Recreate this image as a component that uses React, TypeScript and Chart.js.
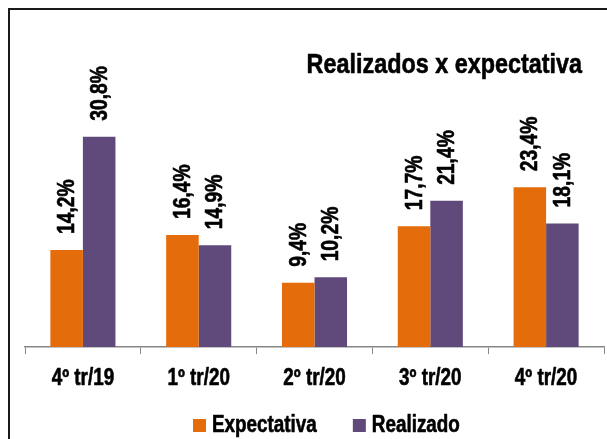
import React, { useEffect, useRef } from "react";
import { Chart, registerables } from "chart.js";

Chart.register(...registerables);

const categories = ["4º tr/19", "1º tr/20", "2º tr/20", "3º tr/20", "4º tr/20"];
const expectativa = [14.2, 16.4, 9.4, 17.7, 23.4];
const realizado = [30.8, 14.9, 10.2, 21.4, 18.1];
const seriesNames = ["Expectativa", "Realizado"];
const seriesColors = ["#E46C0A", "#604A7B"];
const chartTitle = "Realizados x expectativa";

const FONT = "'Liberation Sans', Arial, sans-serif";
const NARROW = 0.82;

function narrowText(ctx: CanvasRenderingContext2D, text: string, x: number, y: number, rot = 0) {
  ctx.save();
  ctx.translate(x, y);
  if (rot) ctx.rotate(rot);
  ctx.scale(NARROW, 1);
  ctx.lineWidth = 0.6;
  ctx.lineJoin = "round";
  ctx.strokeStyle = "#000";
  ctx.fillText(text, 0, 0);
  ctx.strokeText(text, 0, 0);
  ctx.restore();
}

const dataLabelsPlugin = {
  id: "dataLabels",
  afterDatasetsDraw(chart: any) {
    const ctx = chart.ctx;
    ctx.save();
    ctx.font = `bold 23.5px ${FONT}`;
    ctx.fillStyle = "#000";
    ctx.textAlign = "left";
    ctx.textBaseline = "middle";
    chart.data.datasets.forEach((ds: any, i: number) => {
      const meta = chart.getDatasetMeta(i);
      meta.data.forEach((bar: any, j: number) => {
        const v = ds.data[j] as number;
        const txt = v.toFixed(1).replace(".", ",") + "%";
        narrowText(ctx, txt, bar.x + 1, bar.y - 16, -Math.PI / 2);
      });
    });
    ctx.restore();
  },
};

const textPlugin = {
  id: "texts",
  afterDraw(chart: any) {
    const ctx = chart.ctx;
    ctx.save();
    ctx.fillStyle = "#000";
    ctx.textBaseline = "alphabetic";
    // title
    ctx.font = `bold 28.5px ${FONT}`;
    ctx.textAlign = "right";
    narrowText(ctx, chartTitle, 572, 63);
    // category labels placed by the x scale
    const xs = chart.scales.x;
    ctx.font = `bold 23px ${FONT}`;
    ctx.textAlign = "center";
    chart.data.labels.forEach((lab: string, i: number) => {
      narrowText(ctx, lab, xs.getPixelForTick(i), 375);
    });
    // legend
    ctx.font = `bold 23px ${FONT}`;
    ctx.textAlign = "left";
    const box = 13;
    const gapText = 6;
    const gapItem = 36;
    let x = 183;
    chart.data.datasets.forEach((ds: any) => {
      ctx.fillStyle = ds.backgroundColor;
      ctx.fillRect(x, 409, box, box);
      ctx.fillStyle = "#000";
      const tx = x + box + gapText;
      narrowText(ctx, ds.label, tx, 422);
      x = tx + ctx.measureText(ds.label).width * NARROW + gapItem;
    });
    ctx.restore();
  },
};

export default function App() {
  const ref = useRef<HTMLCanvasElement | null>(null);

  useEffect(() => {
    if (!ref.current) return;
    const chart = new Chart(ref.current, {
      type: "bar",
      data: {
        labels: categories,
        datasets: [
          {
            label: seriesNames[0],
            data: expectativa,
            backgroundColor: seriesColors[0],
            barPercentage: 1,
            categoryPercentage: 0.562,
          },
          {
            label: seriesNames[1],
            data: realizado,
            backgroundColor: seriesColors[1],
            barPercentage: 1,
            categoryPercentage: 0.562,
          },
        ],
      },
      options: {
        responsive: false,
        animation: false,
        devicePixelRatio: 1,
        layout: { padding: { left: 15, right: 3, top: 98, bottom: 85 } },
        plugins: {
          legend: { display: false },
          title: { display: false },
          tooltip: { enabled: false },
        },
        scales: {
          x: {
            grid: {
              display: true,
              drawOnChartArea: false,
              drawTicks: true,
              tickLength: 7,
              color: "#868686",
              lineWidth: 1,
            },
            border: { display: true, color: "#868686", width: 1.5 },
            ticks: { display: false },
          },
          y: {
            display: false,
            min: 0,
            max: 35,
          },
        },
      },
      plugins: [dataLabelsPlugin, textPlugin],
    });
    return () => chart.destroy();
  }, []);

  return (
    <div
      style={{
        position: "fixed",
        left: 8,
        top: 8,
        width: 599,
        height: 431,
        overflow: "hidden",
        background: "#fff",
      }}
    >
      <div
        style={{
          boxSizing: "border-box",
          width: 700,
          height: 500,
          borderLeft: "2px solid #1a1a1a",
          borderTop: "2px solid #1a1a1a",
        }}
      >
        <canvas ref={ref} width={597} height={429} style={{ display: "block", width: 597, height: 429 }} />
      </div>
    </div>
  );
}
